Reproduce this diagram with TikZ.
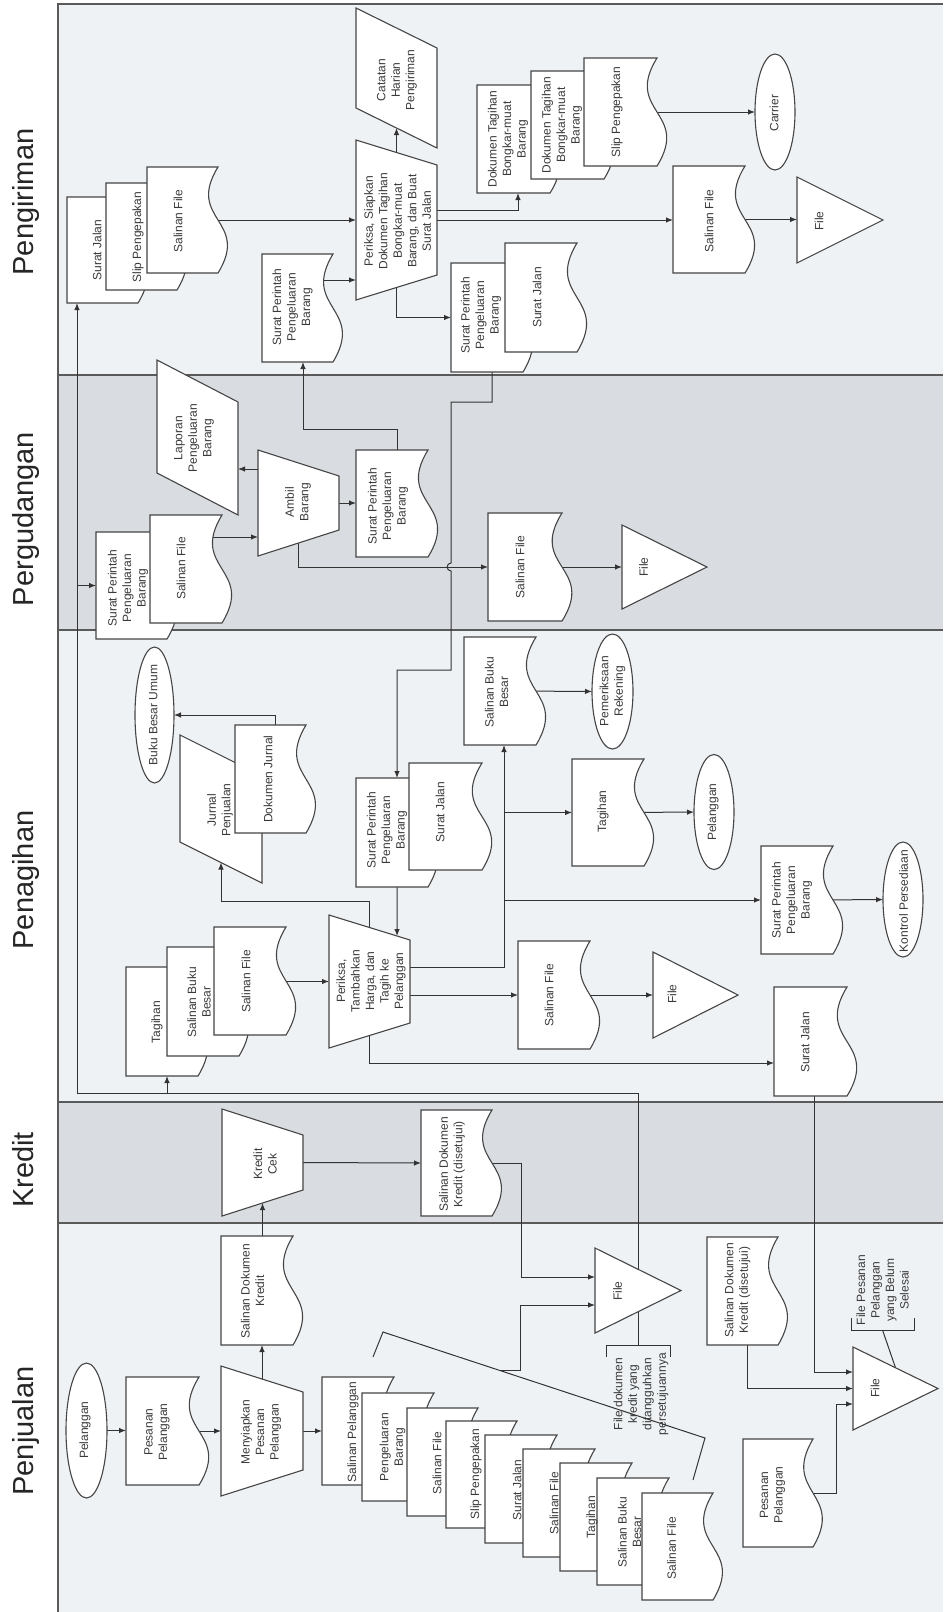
\documentclass[tikz,border=0pt]{standalone}
\usepackage{fontspec}
\setmainfont{Liberation Sans}
\usetikzlibrary{arrows.meta,calc,shapes.geometric}
\pgfdeclarelayer{lanes}
\pgfdeclarelayer{wires}
\pgfsetlayers{lanes,wires,main}

\definecolor{laneA}{HTML}{EFF2F5}
\definecolor{laneB}{HTML}{D9DCE0}
\definecolor{edge}{HTML}{454545}
\definecolor{wire}{HTML}{333333}
\definecolor{ink}{HTML}{3A3A3A}
\definecolor{frame}{HTML}{5A5A5A}

\tikzset{
  shp/.style={draw=edge, fill=white, line width=1.1pt, line join=miter},
  bbox/.style={rectangle, inner sep=0pt, outer sep=0pt, draw=none},
  ell/.style={ellipse, draw=edge, fill=white, line width=1.1pt, inner sep=0pt, outer sep=0pt},
  txt/.style={rotate=90, align=center, inner sep=0pt, text=ink, font=\fontsize{12}{14.5}\selectfont},
  lanelabel/.style={rotate=90, anchor=base, inner sep=0pt, text=black!85, font=\fontsize{29}{34}\selectfont},
  wireline/.style={draw=wire, line width=1pt},
  arr/.style={wireline, -{Latex[length=7pt,width=5.5pt]}},
}

% document: name, left, top, width, height (wavy edge on the right)
\newcommand\mkdoc[5]{%
  \draw[shp] (#2,#3) -- ({#2+#4},#3)
    .. controls ({#2+0.54*#4},{#3+0.5*#5}) and ({#2+1.46*#4},{#3+0.5*#5}) .. ({#2+#4},{#3+#5})
    -- (#2,{#3+#5}) -- cycle;
  \node[bbox, minimum width=#4pt, minimum height=#5pt] (#1) at ({#2+0.5*#4},{#3+0.5*#5}) {};
}
% manual operation: name, left x, right x, centre y, left half height, right half height
\newcommand\mkmanop[6]{%
  \coordinate (#1-tl) at (#2,{#4-#5});
  \coordinate (#1-bl) at (#2,{#4+#5});
  \coordinate (#1-tr) at (#3,{#4-#6});
  \coordinate (#1-br) at (#3,{#4+#6});
  \draw[shp] (#1-tl) -- (#1-tr) -- (#1-br) -- (#1-bl) -- cycle;
  \node[bbox, minimum width={(#3-#2)*1pt}, minimum height={2*#5*1pt}] (#1) at ({(#2+#3)/2},#4) {};
}
% slanted report: name, left x, right x, top-left y, height, slant
\newcommand\mkpara[6]{%
  \coordinate (#1-tl) at (#2,#4);
  \coordinate (#1-tr) at (#3,{#4+#6});
  \coordinate (#1-br) at (#3,{#4+#6+#5});
  \coordinate (#1-bl) at (#2,{#4+#5});
  \draw[shp] (#1-tl) -- (#1-tr) -- (#1-br) -- (#1-bl) -- cycle;
  \node[bbox, minimum width={(#3-#2)*1pt}, minimum height={(#5+#6)*1pt}] (#1) at ({(#2+#3)/2},{#4+(#5+#6)/2}) {};
}
% file triangle: name, left x, centre y, half height, apex x
\newcommand\mktri[5]{%
  \coordinate (#1-top) at (#2,{#3-#4});
  \coordinate (#1-bot) at (#2,{#3+#4});
  \coordinate (#1-apex) at (#5,#3);
  \draw[shp] (#1-top) -- (#1-apex) -- (#1-bot) -- cycle;
  \node[bbox, minimum width={(#5-#2)*1pt}, minimum height={2*#4*1pt}] (#1) at ({(#2+#5)/2},#3) {};
}

\begin{document}
\begin{tikzpicture}[x=1pt,y=-1pt]
\useasboundingbox (0,0) rectangle (943,1612);

% ---------- swimlanes ----------
\begin{pgfonlayer}{lanes}
  \fill[white] (0,0) rectangle (943,1612);
  \fill[laneA] (58,4) rectangle (943,375);
  \fill[laneB] (58,375) rectangle (943,630);
  \fill[laneA] (58,630) rectangle (943,1102);
  \fill[laneB] (58,1102) rectangle (943,1223);
  \fill[laneA] (58,1223) rectangle (943,1612);
  \draw[frame, line width=1.2pt] (943,4) -- (58,4) -- (58,1612);
  \foreach \yy in {375,630,1102,1223} \draw[frame, line width=1.2pt] (58,\yy) -- (943,\yy);
\end{pgfonlayer}

\node[lanelabel] at (33,202) {Pengiriman};
\node[lanelabel] at (33,519) {Pergudangan};
\node[lanelabel] at (33,880) {Penagihan};
\node[lanelabel] at (33,1170) {Kredit};
\node[lanelabel] at (33,1431) {Penjualan};

% ---------- Pengiriman ----------
\mkdoc{sjA}{67}{197}{71}{106}
\mkdoc{spA}{106}{183}{71}{107}
\mkdoc{sfA}{147}{167}{71}{106}
\mkdoc{sppA}{262}{254}{71}{108}
\mkmanop{prA}{356}{437}{220}{80}{55}
\mkpara{chA}{356}{437}{8}{100}{40}
\mkdoc{dtA1}{477}{85}{73}{108}
\mkdoc{dtA2}{531}{71}{73}{108}
\mkdoc{slA}{584}{58}{73}{108}
\node[ell, minimum width=40pt, minimum height=116pt] (carrier) at (775,112) {};
\mkdoc{sfA2}{673}{166}{72}{107}
\mktri{fileA}{797}{220}{43}{883}
\mkdoc{sppA2}{451}{263}{72}{109}
\mkdoc{sjA2}{505}{243}{72}{109}

% ---------- Pergudangan ----------
\mkpara{lapB}{157}{238}{360}{113}{42}
\mkdoc{sppB}{96}{532}{71}{107}
\mkdoc{sfB}{150}{515}{72}{108}
\mkmanop{ambil}{258}{339}{503}{53}{27}
\mkdoc{sppB2}{356}{450}{72}{107}
\mkdoc{sfB2}{488}{513}{74}{108}
\mktri{fileB}{622}{567}{42}{707}

% ---------- Penagihan ----------
\node[ell, minimum width=39pt, minimum height=136pt] (bbu) at (154.5,715) {};
\mkpara{jurnal}{180}{262}{735}{107}{41}
\mkdoc{dokj}{235}{725}{71}{108}
\mkdoc{tgC}{126}{967}{72}{109}
\mkdoc{sbbC}{167}{947}{72}{109}
\mkdoc{sfC}{214}{927}{72}{108}
\mkmanop{prC}{329}{410}{981.5}{66.5}{41.5}
\mkdoc{sppC}{356}{778}{72}{109}
\mkdoc{sjC}{409}{763}{73}{107}
\mkdoc{sbbC2}{464}{637}{72}{108}
\node[ell, minimum width=41pt, minimum height=115pt] (pemeriksaan) at (612.5,691.5) {};
\mkdoc{tgC2}{572}{759}{72}{107}
\node[ell, minimum width=40pt, minimum height=115pt] (pelC) at (714,812) {};
\mkdoc{sppC2}{761}{846}{72}{108}
\node[ell, minimum width=40pt, minimum height=115pt] (kontrol) at (903,899.5) {};
\mkdoc{sfC2}{518}{941}{72}{108}
\mktri{fileC}{653}{995}{43}{738}
\mkdoc{sjC2}{774}{987}{73}{109}

% ---------- Kredit ----------
\mkmanop{kcek}{222}{303}{1162.5}{53.5}{27.5}
\mkdoc{sdkD}{421}{1110}{71}{106}

% ---------- Penjualan ----------
\node[ell, minimum width=41pt, minimum height=135pt] (pelE) at (86.5,1430.5) {};
\mkdoc{ppE}{126}{1377}{73}{108}
\mkmanop{menyE}{221}{303}{1431}{65}{39}
\mkdoc{sdkE}{221}{1236}{72}{109}
\mkdoc{sE1}{322}{1377}{72}{108}
\mkdoc{sE2}{362}{1393}{72}{108}
\mkdoc{sE3}{407}{1408}{71}{108}
\mkdoc{sE4}{446}{1421}{71}{107}
\mkdoc{sE5}{485}{1435}{72}{108}
\mkdoc{sE6}{523}{1449}{72}{108}
\mkdoc{sE7}{560}{1463}{72}{108}
\mkdoc{sE8}{597}{1478}{72}{107}
\mkdoc{sE9}{642}{1493}{71}{107}
\mktri{fileE1}{595}{1290.5}{42.5}{681}
\mkdoc{sdkE2}{707}{1237}{71}{108}
\mkdoc{ppE2}{743}{1439}{70}{108}
\mktri{fileE2}{853}{1388.5}{41.5}{938}

% annotation brackets
\coordinate (n1) at (638,1345);
\coordinate (n2) at (882.5,1330);
\coordinate (brA1) at (373,1357);
\coordinate (brA2) at (383,1332);
\coordinate (brA3) at (705,1438);
\coordinate (brA4) at (693,1480);
\draw[wireline] ($(n1)+(-32,12)$) -- ++(0,-12) -- ++(64,0) -- ++(0,12);
\draw[wireline] ($(n2)+(-31.5,-12)$) -- ++(0,12) -- ++(63,0) -- ++(0,-12);
\draw[wireline] (brA1) -- (brA2) -- (brA3) -- (brA4);

% ---------- connectors ----------
\coordinate (busC) at ($(sbbC2.south)+(4,0)$);
\begin{pgfonlayer}{wires}
  % Pengiriman
  \draw[arr] (sfA) -- (prA.west);
  \draw[arr] ($(sppA.center)+(0,-28)$) -- ($(prA.west)+(0,60)$);
  \draw[arr] (prA.center) -- ($(chA-bl)!0.5!(chA-br)$);
  \draw[arr] ($(prA.center)+(0,-10)$) -| ($(dtA1.south)+(4.5,0)$);
  \draw[arr] (prA.east) -- (prA.east -| sfA2.west);
  \draw[arr] (sfA2) -- (sfA2 -| fileA.west);
  \draw[arr] (slA) -- (carrier);
  \draw[arr] (prA.center) |- (sppA2.west);
  % Pergudangan
  \draw[arr] ($(sppB2.north)+(5,0)$) -- ++(0,-21) -| ($(sppA.south)+(5.5,0)$);
  \draw[arr] ($(sppA2.south)+(5,0)$) -- ++(0,30) -- (451,402) -- (451,563)
     .. controls (446,563) and (446,571) .. (451,571) -- (451,670) -| ($(sppC.north)+(5,0)$);
  \draw[arr] ($(sfB.center)+(0,-32)$) -- ($(ambil.west)+(0,34)$);
  \draw[arr] ($(ambil.center)+(0,-34)$) -- ($(lapB.east)+(0,31.5)$);
  \draw[arr] (ambil.east) -- (ambil.east -| sppB2.west);
  \draw[arr] (ambil.center) |- (sfB2.west);
  \draw[arr] (sfB2) -- (fileB.west);
  % Penagihan
  \draw[arr] ($(dokj.north)+(4.5,0)$) |- (bbu.east);
  \draw[arr] (prC.center) -- ++(0,-80.5) -| ($(jurnal-bl)!0.5!(jurnal-br)$);
  \draw[arr] ($(sppC.center)+(5,0)$) -- ($(prC-tl)!0.84!(prC-tr)$);
  \draw[arr] (sfC.center |- prC.west) -- (prC.west);
  \draw[arr] ($(prC.center)+(0,-14.5)$) -| (busC);
  \draw[arr] (busC |- tgC2.west) -- (tgC2.west);
  \draw[arr] (busC |- sppC2.west) -- (sppC2.west);
  \draw[arr] (prC.center |- sfC2.west) -- (sfC2.west);
  \draw[arr] (sfC2) -- (fileC.west);
  \draw[arr] (prC.center) |- ($(sjC2.west)+(0,21.5)$);
  \draw[arr] (tgC2) -- (pelC);
  \draw[arr] (sbbC2) -- (pemeriksaan);
  \draw[arr] (sppC2) -- (kontrol);
  \draw[arr] ($(sjC2.south)+(3.5,0)$) |- ($(fileE2.west)+(0,-16.5)$);
  % Kredit
  \draw[arr] (sdkE.north -| kcek.center) -- ($(kcek-bl)!0.5!(kcek-br)$);
  \draw[arr] (kcek.east) -- (sdkD.west);
  \draw[arr] (sdkD.center) -- ++(64.5,0) |- ($(fileE1.west)+(0,-13.5)$);
  % Penjualan
  \draw[arr] (pelE.east) -- (pelE.east -| ppE.west);
  \draw[arr] (ppE.east) -- (menyE.west);
  \draw[arr] (menyE.east) -- (sE1.west);
  \draw[arr] ($(menyE-tl)!0.5!(menyE-tr)$) -- (sdkE.south -| menyE.center);
  \draw[arr] ($(brA2)!0.363!(brA3)$) -- ++(21,0) |- ($(fileE1.west)+(0,14.5)$);
  \draw[arr] ($(sdkE2.south)+(4.5,0)$) |- (fileE2.west);
  \draw[arr] (ppE2.center) -- ++(58,0) |- ($(fileE2.west)+(0,15.5)$);
  \draw[wireline] (n2) -- ($(fileE2-top)!0.5!(fileE2-apex)$);
  % copies routed from the pending credit file
  \draw[arr] (n1) -- ++(0,-252) -| ($(sjA.south)+(-25.5,0)$);
  \draw[arr] ($(tgC.south)+(5,17)$) -- ($(tgC.south)+(5,0)$);
  \draw[arr] ($(sppB.west)+(-19,0)$) -- (sppB.west);
\end{pgfonlayer}

% ---------- texts ----------
% Pengiriman
\node[txt] at (97,250) {Surat Jalan};
\node[txt] at (138,237) {Slip Pengepakan};
\node[txt] at (178,221) {Salinan File};
\node[txt] at (292.5,307) {Surat Perintah\\Pengeluaran\\Barang};
\node[txt] at (397.5,221) {Periksa, Siapkan\\Dokumen Tagihan\\Bongkar-muat\\Barang, dan Buat\\Surat Jalan};
\node[txt] at (397,80) {Catatan\\Harian\\Pengiriman};
\node[txt] at (508,139) {Dokumen Tagihan\\Bongkar-muat\\Barang};
\node[txt] at (562,125) {Dokumen Tagihan\\Bongkar-muat\\Barang};
\node[txt] at (617,112) {Slip Pengepakan};
\node[txt] at (774,113) {Carrier};
\node[txt] at (709,221) {Salinan File};
\node[txt] at (819,221) {File};
\node[txt] at (481,315) {Surat Perintah\\Pengeluaran\\Barang};
\node[txt] at (537,297.5) {Surat Jalan};
% Pergudangan
\node[txt] at (128,588) {Surat Perintah\\Pengeluaran\\Barang};
\node[txt] at (181,568.5) {Salinan File};
\node[txt] at (298,502) {Ambil\\Barang};
\node[txt] at (194,438) {Laporan\\Pengeluaran\\Barang};
\node[txt] at (388,506) {Surat Perintah\\Pengeluaran\\Barang};
\node[txt] at (520,567) {Salinan File};
\node[txt] at (643.5,567) {File};
% Penagihan
\node[txt] at (153,715) {Buku Besar Umum};
\node[txt] at (220,810) {Jurnal\\Penjualan};
\node[txt] at (268,779) {Dokumen Jurnal};
\node[txt] at (157,1022) {Tagihan};
\node[txt] at (199,1002) {Salinan Buku\\Besar};
\node[txt] at (246,981.5) {Salinan File};
\node[txt] at (371,981) {Periksa,\\Tambahkan\\Harga, dan\\Tagih ke\\Pelanggan};
\node[txt] at (387,830) {Surat Perintah\\Pengeluaran\\Barang};
\node[txt] at (440,812) {Surat Jalan};
\node[txt] at (496.5,692) {Salinan Buku\\Besar};
\node[txt] at (612.5,691) {Pemeriksaan\\Rekening};
\node[txt] at (603,811.5) {Tagihan};
\node[txt] at (713,812) {Pelanggan};
\node[txt] at (792,900) {Surat Perintah\\Pengeluaran\\Barang};
\node[txt] at (903.5,901) {Kontrol Persediaan};
\node[txt] at (549,995) {Salinan File};
\node[txt] at (672,994) {File};
\node[txt] at (805,1042.5) {Surat Jalan};
% Kredit
\node[txt] at (265,1164) {Kredit\\Cek};
\node[txt] at (452,1164.5) {Salinan Dokumen\\Kredit (disetujui)};
% Penjualan
\node[txt] at (85,1430) {Pelanggan};
\node[txt] at (157,1432) {Pesanan\\Pelanggan};
\node[txt] at (261,1432) {Menyiapkan\\Pesanan\\Pelanggan};
\node[txt] at (252.5,1291) {Salinan Dokumen\\Kredit};
\node[txt] at (353,1432) {Salinan Pelanggan};
\node[txt] at (392.5,1447) {Pengeluaran\\Barang};
\node[txt] at (437,1463) {Salinan File};
\node[txt] at (476,1474) {Slip Pengepakan};
\node[txt] at (517,1490) {Surat Jalan};
\node[txt] at (554,1503) {Salinan File};
\node[txt] at (592,1517) {Tagihan};
\node[txt] at (629.5,1532) {Salinan Buku\\Besar};
\node[txt] at (671.5,1548) {Salinan File};
\node[txt] at (617.5,1291) {File};
\node[txt] at (641,1394) {File dokumen\\kredit yang\\ditangguhkan\\persetujuannya};
\node[txt] at (737.5,1290) {Salinan Dokumen\\Kredit (disetujui)};
\node[txt] at (772.5,1495) {Pesanan\\Pelanggan};
\node[txt] at (875,1388) {File};
\node[txt] at (882.5,1290) {File Pesanan\\Pelanggan\\yang Belum\\Selesai};
\end{tikzpicture}
\end{document}
